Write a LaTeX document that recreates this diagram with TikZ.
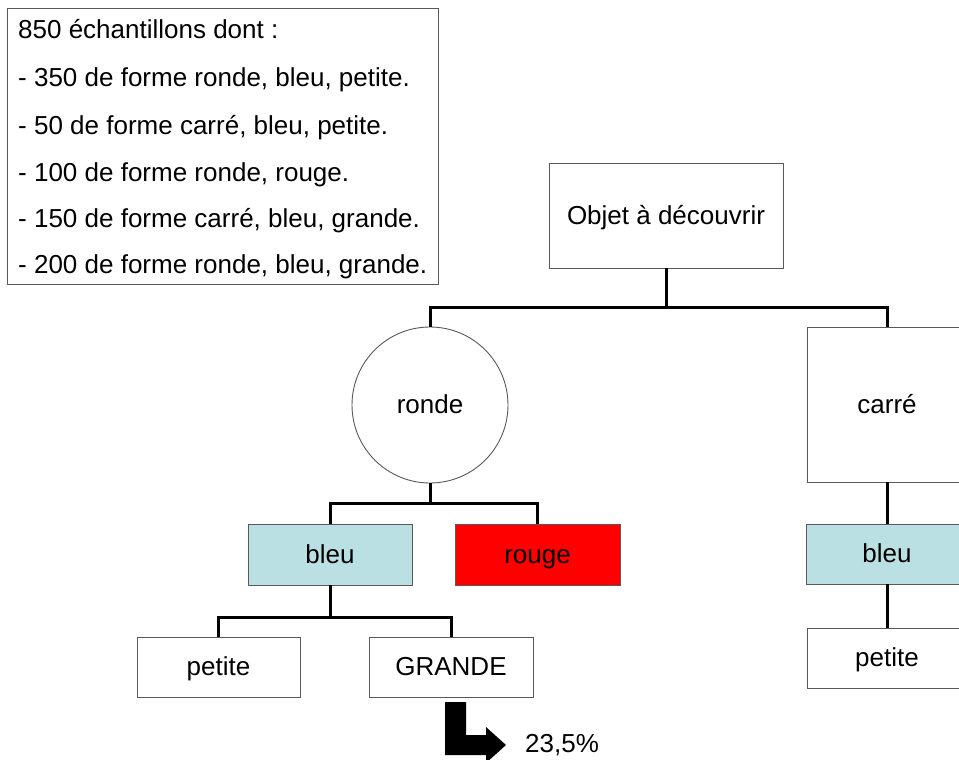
\documentclass[tikz,border=0pt]{standalone}
\usepackage{fontspec}
\setmainfont{Liberation Sans}
\begin{document}
\begin{tikzpicture}[x=1pt,y=-1pt,
  txt/.style={font=\fontsize{26}{30}\selectfont, text=black},
  box/.style={draw=black!65, line width=0.9pt, rectangle, inner sep=0pt, txt,
    text height=18pt, text depth=1pt},
  bluebox/.style={box, fill=lightblue},
  conn/.style={line width=3pt, black, line join=miter},
  infoline/.style={txt, anchor=base west, inner sep=0pt}
]
\definecolor{lightblue}{RGB}{187,224,227}
\definecolor{pptred}{RGB}{255,0,0}
\useasboundingbox (0,0) rectangle (959,760);
\fill[white] (0,0) rectangle (959,760);
\clip (0,0) rectangle (959,760);

% info box
\node[draw=black!65, line width=0.9pt, rectangle, inner sep=0pt,
  minimum width=431pt, minimum height=276pt] (info) at (222.5,146) {};
\node[infoline] (l1) at (18,39) {850 échantillons dont :};
\node[infoline] (l2) at (18,86) {- 350 de forme ronde, bleu, petite.};
\node[infoline] (l3) at (18,134) {- 50 de forme carré, bleu, petite.};
\node[infoline] (l4) at (18,181) {- 100 de forme ronde, rouge.};
\node[infoline] (l5) at (18,227) {- 150 de forme carré, bleu, grande.};
\node[infoline] (l6) at (18,273) {- 200 de forme ronde, bleu, grande.};

% tree nodes
\node[box, minimum width=234pt, minimum height=105pt] (objet) at (666,215.5) {Objet à découvrir};
\node[box, circle, minimum size=156pt] (ronde) at (430,405) {ronde};
\node[box, minimum width=160pt, minimum height=155pt] (carre) at (887,404.5) {carré};
\node[bluebox, minimum width=164pt, minimum height=61pt] (bleuL) at (330,554.5) {bleu};
\node[box, fill=pptred, minimum width=165pt, minimum height=61pt] (rouge) at (537.5,554.5) {rouge};
\node[bluebox, minimum width=162pt, minimum height=60pt] (bleuR) at (887,554) {bleu};
\node[box, minimum width=163pt, minimum height=60pt] (petiteL) at (218.5,667) {petite};
\node[box, minimum width=164pt, minimum height=60pt] (grande) at (451,667) {GRANDE};
\node[box, minimum width=160pt, minimum height=60pt] (petiteR) at (887,658) {petite};

% connectors
\draw[conn] (objet.south) -- (objet.south |- 0,307) -| (ronde.north);
\draw[conn] (objet.south |- 0,307) -| (carre.north);
\draw[conn] (ronde.south) -- (ronde.south |- 0,503) -| (bleuL.north);
\draw[conn] (ronde.south |- 0,503) -| (rouge.north);
\draw[conn] (bleuL.south) -- (bleuL.south |- 0,617) -| (petiteL.north);
\draw[conn] (bleuL.south |- 0,617) -| (grande.north);
\draw[conn] (carre.south) -- (bleuR.north);
\draw[conn] (bleuR.south) -- (petiteR.north);

% result arrow
\fill[black] (445,702) -- (466,702) -- (466,735) -- (486,735) -- (486,727)
  -- (506,745) -- (486,763) -- (486,755) -- (445,755) -- cycle;
\node[txt, anchor=west, inner sep=0pt] (pct) at (525,745) {23,5\%};
\end{tikzpicture}
\end{document}
